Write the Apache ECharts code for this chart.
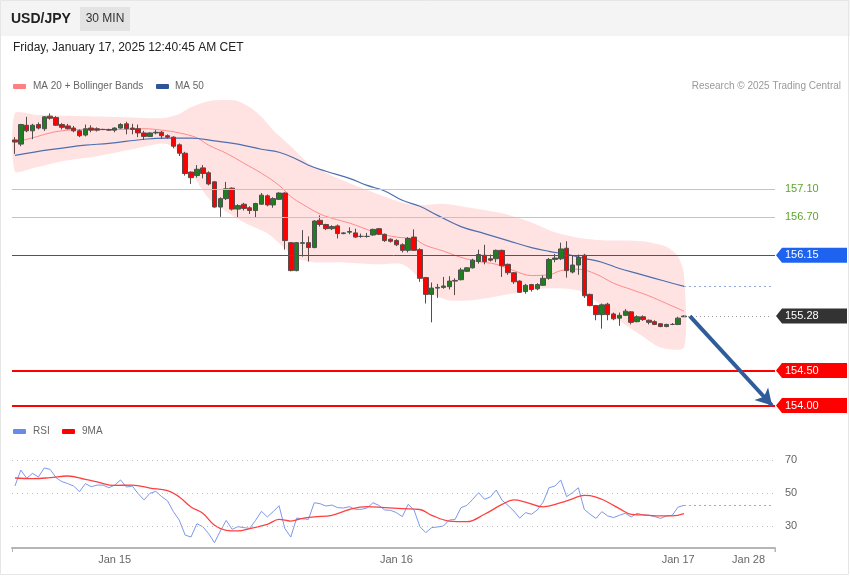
<!DOCTYPE html>
<html><head><meta charset="utf-8">
<script src="https://cdn.jsdelivr.net/npm/echarts@6/dist/echarts.min.js"></script>
<style>html,body{margin:0;padding:0;background:#fff}#c{width:850px;height:576px}</style>
</head><body><div id="c"></div>
<script>
// ---------- DATA ----------
const categories = [];
for (let k = 0; k < 130; k++) {
  const m = 15 * 60 + 30 + k * 30;
  const day = 14 + Math.floor(m / 1440);
  const mm = m % 1440;
  categories.push('Jan ' + day + ' ' + String(Math.floor(mm / 60)).padStart(2, '0') + ':' + String(mm % 60).padStart(2, '0'));
}
const tickIndex = [17, 65, 113, 125];
const tickLabels = ['Jan 15', 'Jan 16', 'Jan 17', 'Jan 28'];

// [open, close, low, high]
const candles = [
[157.80,157.77,157.60,157.84],[157.74,158.02,157.71,158.03],[158.01,157.93,157.91,158.13],[157.93,158.01,157.81,158.03],[158.02,157.97,157.95,158.05],
[157.96,158.13,157.93,158.14],[158.14,158.11,158.09,158.18],[158.12,158.01,158.00,158.14],[158.02,157.98,157.95,158.04],[158.00,157.96,157.95,158.03],
[157.97,157.93,157.91,158.00],[157.93,157.86,157.84,157.95],[157.87,157.96,157.85,158.02],[157.97,157.94,157.91,158.01],[157.96,157.94,157.92,157.98],
[157.95,157.95,157.94,157.96],[157.95,157.94,157.93,157.96],[157.94,157.97,157.91,157.98],[157.97,158.02,157.96,158.04],[158.03,157.96,157.88,158.06],
[157.97,157.95,157.88,158.03],[157.96,157.90,157.84,158.02],[157.90,157.85,157.80,157.93],[157.85,157.90,157.84,157.91],[157.90,157.91,157.88,157.94],
[157.91,157.86,157.82,157.93],[157.86,157.84,157.82,157.88],[157.84,157.71,157.68,157.85],[157.73,157.61,157.57,157.75],[157.61,157.32,157.29,157.63],
[157.34,157.26,157.17,157.35],[157.29,157.38,157.26,157.44],[157.40,157.32,157.25,157.44],[157.33,157.17,157.15,157.35],[157.20,156.84,156.83,157.21],
[156.84,156.96,156.70,156.98],[156.96,157.10,156.94,157.20],[157.11,156.81,156.79,157.12],[156.81,156.86,156.69,156.88],[156.88,156.82,156.79,156.90],
[156.83,156.79,156.74,156.85],[156.79,156.89,156.69,156.90],[156.88,157.01,156.87,157.04],[157.00,156.87,156.85,157.02],[156.87,156.96,156.83,156.98],
[156.95,157.04,156.94,157.05],[157.04,156.36,156.23,157.05],[156.33,155.93,155.92,156.34],[155.93,156.33,155.92,156.34],[156.32,156.33,156.13,156.51],
[156.33,156.26,156.06,156.42],[156.26,156.64,156.25,156.65],[156.65,156.59,156.56,156.72],[156.59,156.53,156.51,156.60],[156.53,156.56,156.51,156.58],
[156.57,156.46,156.39,156.59],[156.46,156.47,156.45,156.48],[156.48,156.49,156.45,156.55],[156.47,156.41,156.40,156.53],[156.42,156.42,156.40,156.46],
[156.42,156.42,156.40,156.47],[156.44,156.52,156.43,156.53],[156.53,156.45,156.44,156.54],[156.45,156.36,156.34,156.46],[156.38,156.35,156.33,156.39],
[156.36,156.30,156.28,156.38],[156.30,156.22,156.19,156.32],[156.22,156.39,156.19,156.41],[156.41,156.22,156.21,156.52],[156.23,155.82,155.77,156.25],
[155.83,155.59,155.46,155.84],[155.59,155.68,155.19,155.76],[155.68,155.69,155.54,155.74],[155.69,155.71,155.67,155.84],[155.70,155.78,155.66,155.85],
[155.79,155.78,155.58,155.82],[155.80,155.94,155.79,155.97],[155.92,155.97,155.91,155.98],[155.97,156.08,155.96,156.10],[156.06,156.16,156.03,156.23],
[156.15,156.06,156.02,156.30],[156.10,156.08,156.06,156.16],[156.10,156.22,156.05,156.23],[156.22,156.00,155.84,156.23],[156.02,155.90,155.87,156.03],
[155.90,155.77,155.74,155.91],[155.78,155.62,155.61,155.79],[155.63,155.72,155.60,155.74],[155.73,155.66,155.63,155.74],[155.67,155.73,155.65,155.75],
[155.72,155.82,155.71,155.86],[155.82,156.09,155.80,156.11],[156.09,156.11,156.05,156.17],[156.10,156.24,156.08,156.33],[156.25,155.93,155.83,156.35],
[155.91,156.01,155.89,156.15],[156.01,156.12,155.87,156.16],[156.15,155.57,155.54,156.17],[155.59,155.43,155.42,155.60],[155.43,155.30,155.22,155.44],
[155.30,155.44,155.10,155.46],[155.45,155.30,155.22,155.47],[155.31,155.24,155.22,155.33],[155.25,155.29,155.14,155.33],[155.29,155.35,155.28,155.38],
[155.34,155.19,155.16,155.35],[155.20,155.27,155.19,155.29],[155.27,155.23,155.21,155.29],[155.22,155.19,155.16,155.23],[155.20,155.16,155.15,155.22],
[155.17,155.13,155.12,155.18],[155.13,155.16,155.12,155.17],[155.16,155.16,155.15,155.18],[155.16,155.25,155.15,155.27],[155.27,155.28,155.27,155.29]
];

const ma20 = [[0,157.77],[3,157.83],[6,157.90],[8,157.93],[11,157.947],[16,157.947],[22,157.96],[25,157.94],[28,157.90],[31,157.83],[33,157.725],[36,157.61],[39,157.467],[42,157.323],[45,157.15],[47,156.99],[49,156.88],[52,156.74],[54,156.68],[57,156.61],[59,156.55],[62,156.46],[65,156.41],[68,156.38],[70,156.29],[73,156.21],[76,156.12],[79,156.06],[82,156.02],[85,155.93],[88,155.86],[91,155.87],[93,155.93],[96,155.95],[99,155.88],[102,155.75],[105,155.66],[108,155.57],[111,155.46],[114,155.35]];

const ma50 = [[0,157.58],[6,157.66],[12,157.725],[16,157.75],[22,157.81],[26,157.825],[30,157.825],[34,157.787],[38,157.74],[42,157.667],[45,157.624],[48,157.524],[50,157.438],[53,157.352],[57,157.25],[60,157.15],[63,157.07],[66,156.937],[69,156.85],[72,156.72],[76,156.56],[80,156.46],[84,156.36],[88,156.26],[91,156.206],[94,156.163],[97,156.106],[100,156.05],[103,155.96],[106,155.89],[109,155.82],[112,155.75],[114,155.705]];

const bbUpper = [[0,158.18],[4,158.155],[16,158.13],[25,158.11],[28,158.17],[30,158.27],[33,158.355],[36,158.37],[38,158.355],[40,158.27],[42,158.13],[44,157.94],[47,157.71],[50,157.47],[55,157.25],[61,157.05],[66,156.90],[69,156.865],[73,156.887],[77,156.837],[83,156.75],[88,156.62],[92,156.48],[96,156.40],[100,156.364],[107,156.35],[111,156.27],[113,156.13],[114,155.87]];

const bbLower = [[0,157.35],[3,157.395],[8,157.495],[14,157.567],[20,157.667],[25,157.75],[27,157.70],[30,157.34],[33,156.965],[37,156.72],[40,156.578],[43,156.464],[46,156.25],[48,156.106],[51,156.048],[56,156.048],[62,156.02],[66,156.02],[69,155.82],[71,155.605],[74,155.504],[79,155.518],[85,155.605],[90,155.676],[96,155.647],[100,155.432],[102,155.275],[107,154.988],[110,154.83],[114,154.83]];

const rsi = [
54.2,63.9,58.9,61.9,59.7,65.2,64.3,59.3,56.9,55.7,
54.2,50.8,55.7,53.8,54.8,54.8,53.2,54.8,57.9,53.6,
54.2,49.6,45.8,49.8,51.0,47.8,45.2,38.7,33.6,24.5,
23.3,31.4,29.6,25.4,19.9,27.0,33.4,28.0,29.6,29.0,
28.6,33.4,38.9,35.5,38.7,42.3,28.4,23.3,34.8,34.4,
34.0,44.1,43.5,42.1,42.7,41.1,40.9,41.7,40.1,40.1,
40.9,44.1,42.5,39.7,39.5,38.1,35.7,43.1,39.7,29.6,
26.0,29.0,29.4,30.0,33.6,34.0,41.1,42.5,46.2,50.2,
46.2,47.6,51.8,45.6,42.5,39.1,34.8,38.1,37.1,39.7,
44.5,53.2,54.2,57.9,47.8,50.2,53.2,40.1,37.1,34.6,
38.7,36.1,35.1,36.5,37.7,35.5,37.7,36.7,36.5,35.7,
34.6,36.1,36.5,41.5,42.5];

const rsiMa = [[0,59.1],[3,58.7],[6,59.3],[9,60.3],[12,58.3],[14,56.7],[17,54.6],[20,54.8],[23,53.0],[26,51.4],[28,47.6],[30,41.5],[32,37.7],[34,30.4],[36,27.4],[38,27.0],[40,28.4],[43,31.0],[45,34.0],[47,33.0],[49,34.6],[51,35.5],[54,36.5],[57,40.0],[60,41.7],[63,41.1],[66,40.5],[69,40.0],[71,36.5],[74,33.0],[77,32.6],[80,37.1],[83,43.1],[85,45.8],[87,44.5],[90,41.6],[93,44.1],[95,46.5],[97,48.6],[98,48.4],[100,46.2],[102,42.5],[103,40.5],[105,37.1],[107,36.7],[110,36.1],[112,36.1],[114,37.5]];

const rsiLevels = [30, 50, 70];
const resistanceLevels = [157.10, 156.70];
const pivotLevel = 156.15;
const lastPrice = 155.28;
const targetLevels = [154.50, 154.00];

// ---------- CHART ----------
const FONT = '"Liberation Sans", Arial, Helvetica, sans-serif';
const chart = echarts.init(document.getElementById('c'), null, {renderer: 'canvas'});
const lastIdx = candles.length - 1;
const endIdx = categories.length - 1;

const option = {
  animation: false,
  backgroundColor: '#ffffff',
  textStyle: {fontFamily: FONT},
  grid: [
    {left: 12, width: 763, top: 91, height: 325, outerBoundsMode: 'none', containLabel: false},
    {left: 12, width: 763, top: 430, height: 118, outerBoundsMode: 'none', containLabel: false}
  ],
  xAxis: [
    {type: 'category', data: categories, gridIndex: 0, boundaryGap: true, show: false},
    {type: 'category', data: categories, gridIndex: 1, boundaryGap: true,
      axisLine: {show: true, onZero: false, lineStyle: {color: '#b5b5b5', width: 2}},
      axisTick: {show: true, length: 4, interval: (i) => i === 0, lineStyle: {color: '#b5b5b5', width: 1}},
      axisLabel: {interval: (i) => tickIndex.includes(i), formatter: (v, i) => tickLabels[tickIndex.indexOf(i)] || '',
        color: '#666', fontSize: 11, margin: 6, fontFamily: FONT},
      splitLine: {show: false}}
  ],
  yAxis: [
    {type: 'value', gridIndex: 0, min: 153.85, max: 158.5, show: false, splitLine: {show: false}},
    {type: 'value', gridIndex: 1, min: 16.667, max: 88.182, show: false, splitLine: {show: false}}
  ],
  series: [
    {
      type: 'custom', name: 'BB', xAxisIndex: 0, yAxisIndex: 0, z: 1, silent: true,
      data: [[0, 156]],
      renderItem: (params, api) => {
        const pts = bbUpper.map(p => api.coord(p)).concat(bbLower.slice().reverse().map(p => api.coord(p)));
        return {type: 'polygon', shape: {points: pts, smooth: 0.25}, style: {fill: '#ffe3e3'}};
      }
    },
    {
      type: 'line', name: 'MA 20', xAxisIndex: 0, yAxisIndex: 0, data: ma20, smooth: 0.4,
      symbol: 'none', z: 3, lineStyle: {color: '#ff8a8a', width: 1}, silent: true
    },
    {
      type: 'line', name: 'MA 50', xAxisIndex: 0, yAxisIndex: 0, data: ma50, smooth: 0.4,
      symbol: 'none', z: 3, lineStyle: {color: '#4d6fae', width: 1.2}, silent: true,
      markLine: {symbol: 'none', silent: true, label: {show: false},
        data: [[{coord: [lastIdx, ma50[ma50.length - 1][1]], lineStyle: {color: '#93a9d8', width: 1, type: [2, 3]}},
                {coord: [endIdx, ma50[ma50.length - 1][1]]}]]}
    },
    {
      type: 'candlestick', name: 'USD/JPY', xAxisIndex: 0, yAxisIndex: 0, data: candles, z: 4,
      barWidth: 5, silent: true,
      itemStyle: {color: '#1f7f1f', color0: '#ff0000', borderColor: '#4f4f4f', borderColor0: '#5a4a4a', borderWidth: 1},
      markLine: {
        symbol: 'none', silent: true, label: {show: false}, z: 5,
        data: [
          {yAxis: resistanceLevels[0], lineStyle: {color: '#b3d49b', width: 1, type: 'solid'}},
          {yAxis: resistanceLevels[1], lineStyle: {color: '#b3d49b', width: 1, type: 'solid'}},
          {yAxis: pivotLevel, lineStyle: {color: '#2556c6', width: 1, type: 'solid'}},
          {yAxis: targetLevels[0], lineStyle: {color: '#ff0000', width: 2, type: 'solid'}},
          {yAxis: targetLevels[1], lineStyle: {color: '#ff0000', width: 2, type: 'solid'}},
          [{coord: [lastIdx, lastPrice], lineStyle: {color: '#9a9a9a', width: 1, type: [1, 3]}},
           {coord: [endIdx, lastPrice]}],
          [{coord: [lastIdx + 1, lastPrice], symbol: 'none', lineStyle: {color: '#2f5d9c', width: 4, type: 'solid'}},
           {coord: [endIdx, targetLevels[1]], symbol: 'arrow', symbolSize: [14, 16]}]
        ]
      }
    },
    {
      type: 'line', name: 'RSI', xAxisIndex: 1, yAxisIndex: 1, data: rsi, symbol: 'none', z: 3,
      lineStyle: {color: '#7d98ec', width: 1}, silent: true,
      markLine: {symbol: 'none', silent: true,
        data: rsiLevels.map(v => ({yAxis: v, lineStyle: {color: '#bdbdbd', width: 1, type: [1, 4]},
          label: {show: true, position: 'end', distance: 10, color: '#666', fontSize: 11, fontFamily: FONT, formatter: String(v)}}))
          .concat([[{coord: [lastIdx, rsi[lastIdx]], lineStyle: {color: '#93a9f0', width: 1, type: [2, 3]}, label: {show: false}},
                    {coord: [endIdx, rsi[lastIdx]]}]])
      }
    },
    {
      type: 'line', name: '9MA', xAxisIndex: 1, yAxisIndex: 1, data: rsiMa, smooth: 0.4, symbol: 'none', z: 4,
      lineStyle: {color: '#ff4040', width: 1.3}, silent: true
    }
  ]
};
chart.setOption(option);

// ---------- ANNOTATIONS ----------
function yOf(v) { return chart.convertToPixel({xAxisIndex: 0, yAxisIndex: 0}, [0, v])[1]; }
const g = [];
g.push({type: 'rect', shape: {x: 0, y: 0, width: 850, height: 36}, style: {fill: '#f4f4f4'}, silent: true});
g.push({type: 'rect', shape: {x: 0.5, y: 0.5, width: 848, height: 574}, style: {fill: 'none', stroke: '#e6e6e6', lineWidth: 1}, silent: true});
g.push({type: 'text', x: 11, y: 19, style: {text: 'USD/JPY', font: 'bold 14px ' + FONT, fill: '#222', verticalAlign: 'middle'}});
g.push({type: 'rect', shape: {x: 80, y: 7, width: 50, height: 24}, style: {fill: '#e3e3e3'}});
g.push({type: 'text', x: 105, y: 19, style: {text: '30 MIN', font: '12px ' + FONT, fill: '#333', align: 'center', verticalAlign: 'middle'}});
g.push({type: 'text', x: 13, y: 48, style: {text: 'Friday, January 17, 2025 12:40:45 AM CET', font: '12px ' + FONT, fill: '#222', verticalAlign: 'middle'}});
// legends
g.push({type: 'rect', shape: {x: 13, y: 84, width: 13, height: 5, r: 1}, style: {fill: '#ff8080'}});
g.push({type: 'text', x: 33, y: 86.5, style: {text: 'MA 20 + Bollinger Bands', font: '10px ' + FONT, fill: '#666', verticalAlign: 'middle'}});
g.push({type: 'rect', shape: {x: 156, y: 84, width: 13, height: 5, r: 1}, style: {fill: '#2f5597'}});
g.push({type: 'text', x: 175, y: 86.5, style: {text: 'MA 50', font: '10px ' + FONT, fill: '#666', verticalAlign: 'middle'}});
g.push({type: 'text', x: 841, y: 86.5, style: {text: 'Research \u00a9 2025 Trading Central', font: '10px ' + FONT, fill: '#999', align: 'right', verticalAlign: 'middle'}});
g.push({type: 'rect', shape: {x: 13, y: 429, width: 13, height: 5, r: 1}, style: {fill: '#6a8ae8'}});
g.push({type: 'text', x: 33, y: 431.5, style: {text: 'RSI', font: '10px ' + FONT, fill: '#666', verticalAlign: 'middle'}});
g.push({type: 'rect', shape: {x: 62, y: 429, width: 13, height: 5, r: 1}, style: {fill: '#ff0000'}});
g.push({type: 'text', x: 82, y: 431.5, style: {text: '9MA', font: '10px ' + FONT, fill: '#666', verticalAlign: 'middle'}});
// right tick of time axis
g.push({type: 'line', shape: {x1: 775, y1: 548, x2: 775, y2: 552}, style: {stroke: '#b5b5b5', lineWidth: 1}});
// price labels
resistanceLevels.forEach(v => {
  g.push({type: 'text', x: 785, y: yOf(v), style: {text: v.toFixed(2), font: '11px ' + FONT, fill: '#5ea52c', verticalAlign: 'middle'}});
});
function tag(v, fill) {
  const y = yOf(v);
  g.push({type: 'polygon', shape: {points: [[776, y], [782, y - 7.5], [847, y - 7.5], [847, y + 7.5], [782, y + 7.5]]}, style: {fill: fill}});
  g.push({type: 'text', x: 785, y: y, style: {text: v.toFixed(2), font: '11px ' + FONT, fill: '#fff', verticalAlign: 'middle'}});
}
tag(pivotLevel, '#1e63f0');
tag(lastPrice, '#333333');
tag(targetLevels[0], '#ff0000');
tag(targetLevels[1], '#ff0000');
chart.setOption({graphic: g});
</script>
</body></html>
